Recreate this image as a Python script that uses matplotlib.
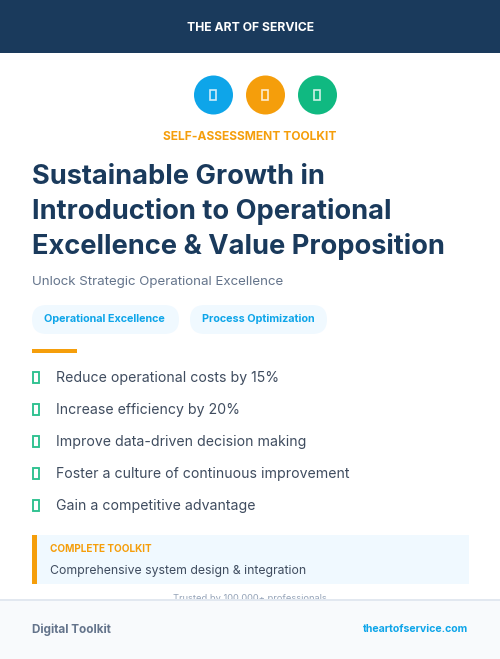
import matplotlib
matplotlib.use("Agg")
import matplotlib.pyplot as plt
from matplotlib.patches import Rectangle, Circle, FancyBboxPatch

brand = "THE ART OF SERVICE"
kicker = "SELF-ASSESSMENT TOOLKIT"
title_lines = ["Sustainable Growth in", "Introduction to Operational", "Excellence & Value Proposition"]
subtitle = "Unlock Strategic Operational Excellence"
tags = ["Operational Excellence", "Process Optimization"]
bullets = ["Reduce operational costs by 15%", "Increase efficiency by 20%",
           "Improve data-driven decision making", "Foster a culture of continuous improvement",
           "Gain a competitive advantage"]
box_label = "COMPLETE TOOLKIT"
box_text = "Comprehensive system design & integration"
trusted = "Trusted by 100,000+ professionals"
footer_left = "Digital Toolkit"
footer_right = "theartofservice.com"
circle_colors = ["#0ea5e9", "#f59e0b", "#10b981"]

NAVY, ORANGE, BLUE, GREEN = "#1a3a5c", "#f59e0b", "#0ea5e9", "#10b981"
plt.rcParams['font.family'] = ['Inter', 'DejaVu Sans']

fig = plt.figure(figsize=(5, 6.59), dpi=100, facecolor="white")
ax = fig.add_axes([0, 0, 1, 1])
ax.set_xlim(0, 500)
ax.set_ylim(659, 0)
ax.axis("off")

def T(x, y, s, px, color, weight="normal", ha="left", z=3, **kw):
    return ax.text(x, y, s, fontsize=px * 0.72, color=color, fontweight=weight, ha=ha, va="center_baseline", zorder=z, **kw)

def tofu(x, y, w, h, color, lw=1.2, alpha=1):
    ax.add_patch(Rectangle((x - w / 2, y - h / 2), w, h, fill=False, ec=color, lw=lw, alpha=alpha, zorder=4))

ax.add_patch(Rectangle((0, 0), 500, 53, fc=NAVY, ec="none"))
T(250.5, 26.5, brand, 12.2, "white", "bold", "center")

for cx, tx, c in zip([213.5, 265.5, 317.5], [213, 265, 317], circle_colors):
    ax.add_patch(Circle((cx, 95), 19.5, fc=c, ec="none"))
    tofu(tx, 95, 6.2, 10.2, "white", 1.2, 0.8)

T(249.5, 135.5, kicker, 12, ORANGE, "bold", "center")

for y, line in zip([174, 208.5, 244], title_lines):
    T(32, y, line, 27.25, NAVY, "bold")
T(32, 280.5, subtitle, 13.3, "#64748b")

for (x, w, tx), tag in zip([(32, 147, 104.7), (190, 137, 258.5)], tags):
    ax.add_patch(FancyBboxPatch((x + 14.5, 305 + 14.5), w - 29, 0, boxstyle="round,pad=14.5,rounding_size=14.5",
                                fc="#f0f9ff", ec="none"))
    T(tx, 318.5, tag, 10.8, BLUE, "bold", "center")

ax.add_patch(Rectangle((32, 349), 45, 4, fc=ORANGE, ec="none"))

for y, b in zip([377, 409, 441, 473, 505], bullets):
    tofu(36, y + 0.5, 6.2, 10.2, "#2cc18f", 1.35)
    T(56, y - 0.5, b, 14.1, "#3f4c5f")

ax.add_patch(Rectangle((32, 535), 437, 49, fc="#f0f9ff", ec="none"))
ax.add_patch(Rectangle((32, 535), 5, 49, fc=ORANGE, ec="none"))
T(50, 547.5, box_label, 10.0, ORANGE, "bold")
T(50, 569.5, box_text, 12.25, "#3f4c5f")

T(250, 597.5, trusted, 9.3, "#94a3b8", ha="center", z=1)

ax.add_patch(Rectangle((0, 601), 500, 58, fc="#f8fafc", ec="none", zorder=2))
ax.add_patch(Rectangle((0, 599.3), 500, 1.7, fc="#e2e8f0", ec="none", zorder=2))
T(32, 628.5, footer_left, 11.7, "#64748b", "bold")
T(468, 627.5, footer_right, 10.6, BLUE, "bold", "right")

fig.savefig("out.png", dpi=100, facecolor="white")
